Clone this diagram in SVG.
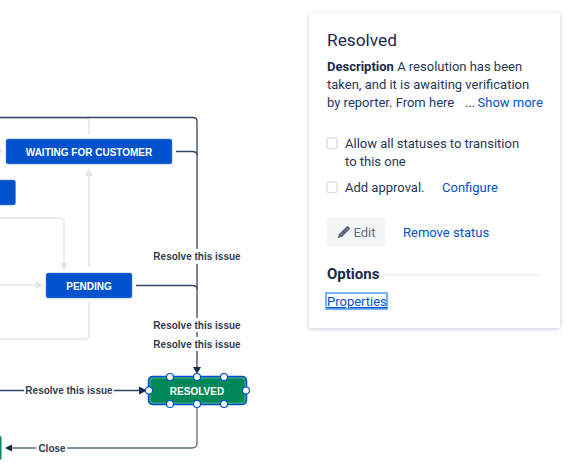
<svg xmlns="http://www.w3.org/2000/svg" width="573" height="476" viewBox="0 0 573 476">
<style>
.n{fill:#0052cc;stroke:#4c86e0;stroke-width:.5}
.nt{font:bold 10px "Liberation Sans",Arial,sans-serif;fill:#fff;text-anchor:middle}
.lt{fill:none;stroke:#e4e6ec;stroke-width:1.5}
.dk{fill:none;stroke:#344563;stroke-width:1.3}
.lb{font:bold 10px "Liberation Sans",Arial,sans-serif;fill:#333c4c;text-anchor:middle}
.lbg{fill:#fff}
.h{fill:#fff;stroke:#0052cc;stroke-width:1.2}
.p{font:13px Roboto,"Liberation Sans",Arial,sans-serif;fill:#253858}
.a{fill:#0052cc}
.cb{fill:#fff;stroke:#dfe1e6;stroke-width:1.5}
</style>
<defs>
<filter id="s" x="-10%" y="-10%" width="120%" height="120%"><feDropShadow dx="0" dy="1" stdDeviation="2" flood-color="#091e42" flood-opacity=".22"/></filter>
</defs>
<g id="connectors">
<path class="lt" d="M0 118H85Q89 118 89 122V135"/>
<path class="lt" d="M89 267V174"/>
<path class="lt" d="M0 218H60Q64 218 64 222V263"/>
<path class="lt" d="M0 285H37"/>
<path class="lt" d="M89 302V335Q89 339 85 339H0"/>
<polygon fill="#e4e6ec" points="89,168 93,176 85,176"/>
<polygon fill="#e4e6ec" points="64,270 60,263 68,263"/>
<polygon fill="#e4e6ec" points="43,285 36,281 36,289"/>
<polygon fill="#e4e6ec" points="3,151 0,148 0,154"/>
<path class="dk" d="M0 117.500H193Q197 117.500 197 121.500V368"/>
<path class="dk" d="M176 151.500H192Q197 151.500 197 155"/>
<path class="dk" d="M136 285.500H192Q197 285.500 197 289"/>
<path class="dk" d="M0 390.500H142"/>
<path class="dk" stroke="#5e6c84" style="stroke:#5e6c84" d="M197 404V443Q197 448 192 448H10"/>
<polygon fill="#172b4d" points="197,374 193,367 201,367"/>
<polygon fill="#172b4d" points="147,390.500 139,386.500 139,394.500"/>
<polygon fill="#172b4d" points="5,448 12,444.500 12,451.500"/>
</g>
<g id="node-waiting"><rect class="n" x="6" y="139" width="166" height="25" rx="2"/><text class="nt" x="89" y="155.500">WAITING FOR CUSTOMER</text></g>
<g id="node-left"><rect class="n" x="-4" y="180" width="19.500" height="25" rx="2"/></g>
<g id="node-pending"><rect class="n" x="46" y="273" width="86" height="25" rx="2"/><text class="nt" x="89" y="289.500">PENDING</text></g>
<g id="node-closed"><rect fill="#00875a" x="-4" y="436" width="5.500" height="24" rx="2"/></g>
<g id="node-resolved">
<rect fill="#00875a" stroke="#0052cc" stroke-width="1.500" x="148.500" y="376.500" width="98" height="28" rx="4"/>
<rect fill="none" stroke="#fff" stroke-opacity=".45" stroke-width=".8" x="150" y="378" width="95" height="25" rx="2.500"/>
<text class="nt" x="197" y="394.500">RESOLVED</text>
<circle class="h" cx="170" cy="377" r="3.500"/><circle class="h" cx="197" cy="377" r="3.500"/><circle class="h" cx="224" cy="377" r="3.500"/>
<circle class="h" cx="170" cy="404" r="3.500"/><circle class="h" cx="197" cy="404" r="3.500"/><circle class="h" cx="224" cy="404" r="3.500"/>
<circle class="h" cx="149" cy="390.500" r="3.500"/><circle class="h" cx="246" cy="390.500" r="3.500"/>
</g>
<g id="labels">
<rect class="lbg" x="152" y="249" width="90" height="15"/><text class="lb" x="197" y="260">Resolve this issue</text>
<rect class="lbg" x="152" y="318" width="90" height="14"/><text class="lb" x="197" y="329">Resolve this issue</text>
<rect class="lbg" x="152" y="337" width="90" height="14"/><text class="lb" x="197" y="348">Resolve this issue</text>
<rect class="lbg" x="24" y="383" width="90" height="15"/><text class="lb" x="69" y="394">Resolve this issue</text>
<rect class="lbg" x="36" y="441" width="31" height="15"/><text class="lb" x="52" y="452">Close</text>
</g>
<g id="panel">
<rect x="309" y="13" width="251" height="315" rx="2" fill="#fff" filter="url(#s)"/>
<text class="p" x="327" y="46" style="font-size:17.300px;fill:#172b4d">Resolved</text>
<text class="p" x="327" y="71"><tspan font-weight="bold" fill="#172b4d">Description</tspan> A resolution has been</text>
<text class="p" x="327" y="89">taken, and it is awaiting verification</text>
<text class="p" x="327" y="107">by reporter. From here</text>
<text class="p" x="465" y="107">...</text>
<text class="p a" x="477.500" y="107">Show more</text>
<rect class="cb" x="327" y="138" width="10" height="10.500" rx="2"/>
<text class="p" x="345" y="148">Allow all statuses to transition</text>
<text class="p" x="345" y="166">to this one</text>
<rect class="cb" x="327" y="182" width="10" height="10.500" rx="2"/>
<text class="p" x="345" y="192">Add approval.</text>
<text class="p a" x="442" y="192">Configure</text>
<rect x="327" y="218" width="58" height="28" rx="3" fill="#f4f5f7"/>
<path fill="#5e6c84" d="M337.500 238l1.500-4 7.500-7.500q1-1 2 0l1 1q1 1 0 2L342 237z"/>
<text class="p" x="353.500" y="237" style="fill:#5e6c84">Edit</text>
<text class="p a" x="403" y="237">Remove status</text>
<text class="p" x="327" y="279" style="font-size:15px;font-weight:bold;fill:#172b4d">Options</text>
<rect x="382" y="274" width="160" height="1.500" fill="#f0f1f4"/>
<rect x="326" y="293" width="61" height="16" fill="none" stroke="#4c9aff" stroke-width="1.500"/>
<text class="p a" x="327" y="306" text-decoration="underline">Properties</text>
</g>
</svg>
